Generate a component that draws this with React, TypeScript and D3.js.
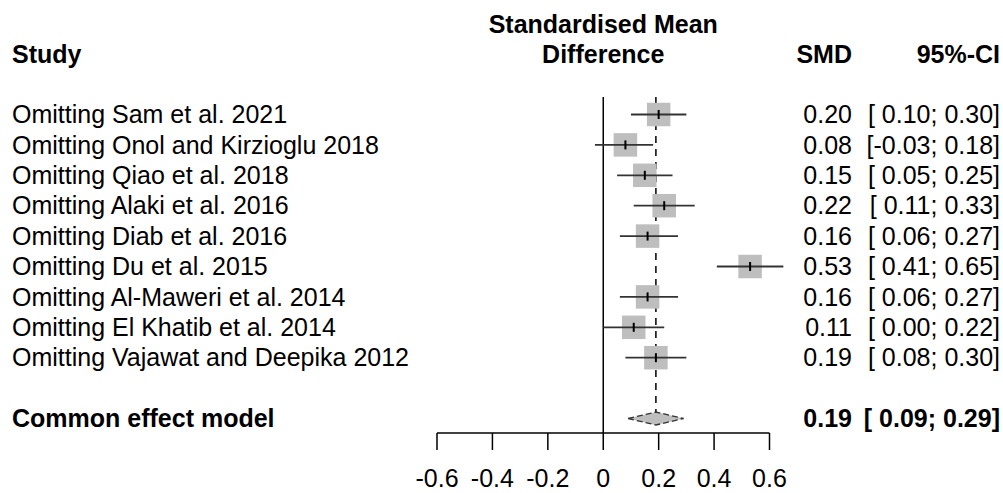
import React from "react";
import * as d3 from "d3";

const studies = [
  "Omitting Sam et al. 2021",
  "Omitting Onol and Kirzioglu 2018",
  "Omitting Qiao et al. 2018",
  "Omitting Alaki et al. 2016",
  "Omitting Diab et al. 2016",
  "Omitting Du et al. 2015",
  "Omitting Al-Maweri et al. 2014",
  "Omitting El Khatib et al. 2014",
  "Omitting Vajawat and Deepika 2012",
];
const smd = [0.2, 0.08, 0.15, 0.22, 0.16, 0.53, 0.16, 0.11, 0.19];
const lower = [0.1, -0.03, 0.05, 0.11, 0.06, 0.41, 0.06, 0.0, 0.08];
const upper = [0.3, 0.18, 0.25, 0.33, 0.27, 0.65, 0.27, 0.22, 0.3];
const commonLabel = "Common effect model";
const common = [0.19, 0.09, 0.29]; // est, lower, upper
const xTicks = [-0.6, -0.4, -0.2, 0, 0.2, 0.4, 0.6];

const W = 1003;
const H = 493;
const FS = 25;
const FONT = "'Liberation Sans', Arial, sans-serif";

// plain hyphen instead of d3's unicode minus
const f2 = d3.format(".2f");
const fmt = (v: number) => f2(v).replace("\u2212", "-");
const ciText = (l: number, u: number) =>
  `[${l < 0 ? fmt(l) : " " + fmt(l)}; ${fmt(u)}]`;

export default function App() {
  const x = d3.scaleLinear().domain([-0.6, 0.6]).range([437, 769.5]);
  const row = d3.scaleLinear().domain([0, 1]).range([114.5, 144.9]);
  const yCommon = row(10);
  const axisY = 433;
  const top = 97;
  const base = 0.35 * FS; // baseline offset from row centre
  const sq = 23.5;
  const diaH = 6.5;

  const smdRight = 852;
  const ciRight = 1000;

  return (
    <svg
      width={W}
      height={H}
      style={{position: "absolute", left: 0, top: 0, background: "white"}}
      fontFamily={FONT}
      fontSize={FS}
    >
      {/* headers */}
      <g fontWeight="bold" fill="#000">
        <text x={12} y={63}>Study</text>
        <text x={x(0)} y={33} textAnchor="middle">Standardised Mean</text>
        <text x={x(0)} y={63} textAnchor="middle">Difference</text>
        <text x={smdRight} y={63} textAnchor="end">SMD</text>
        <text x={ciRight} y={63} textAnchor="end">95%-CI</text>
      </g>

      {/* reference lines */}
      <line x1={x(0)} x2={x(0)} y1={top} y2={axisY} stroke="#000" strokeWidth={1.5}/>
      <line
        x1={x(common[0])} x2={x(common[0])} y1={top} y2={yCommon - diaH}
        stroke="#000" strokeWidth={1.5} strokeDasharray="7,6"
      />

      {/* studies */}
      {studies.map((s, i) => {
        const cy = row(i);
        return (
          <g key={s}>
            <text x={12} y={cy + base} fill="#000">{s}</text>
            <rect
              x={x(smd[i]) - sq / 2} y={cy - sq / 2} width={sq} height={sq}
              fill="#bebebe"
            />
            <line x1={x(lower[i])} x2={x(upper[i])} y1={cy} y2={cy} stroke="#333" strokeWidth={1.8}/>
            <line x1={x(smd[i])} x2={x(smd[i])} y1={cy - 4.5} y2={cy + 4.5} stroke="#000" strokeWidth={2}/>
            <text x={smdRight} y={cy + base} textAnchor="end" fill="#000">{fmt(smd[i])}</text>
            <text x={ciRight} y={cy + base} textAnchor="end" fill="#000" style={{whiteSpace: "pre"}}>
              {ciText(lower[i], upper[i])}
            </text>
          </g>
        );
      })}

      {/* common effect */}
      <g fontWeight="bold" fill="#000">
        <text x={12} y={yCommon + base}>{commonLabel}</text>
        <text x={smdRight} y={yCommon + base} textAnchor="end">{fmt(common[0])}</text>
        <text x={ciRight} y={yCommon + base} textAnchor="end" style={{whiteSpace: "pre"}}>
          {ciText(common[1], common[2])}
        </text>
      </g>
      <polygon
        points={[
          [x(common[1]), yCommon],
          [x(common[0]), yCommon - diaH],
          [x(common[2]), yCommon],
          [x(common[0]), yCommon + diaH],
        ].map((p) => p.join(",")).join(" ")}
        fill="#bebebe"
        stroke="#333"
        strokeWidth={1.3}
        strokeDasharray="6,3"
      />

      {/* axis */}
      <g stroke="#000" strokeWidth={1.5}>
        <line x1={x(xTicks[0])} x2={x(xTicks[xTicks.length - 1])} y1={axisY} y2={axisY}/>
        {xTicks.map((t) => (
          <line key={t} x1={x(t)} x2={x(t)} y1={axisY} y2={axisY + 17}/>
        ))}
      </g>
      <g fill="#000" textAnchor="middle">
        {xTicks.map((t) => (
          <text key={t} x={x(t)} y={487}>{t === 0 ? "0" : String(t)}</text>
        ))}
      </g>
    </svg>
  );
}
